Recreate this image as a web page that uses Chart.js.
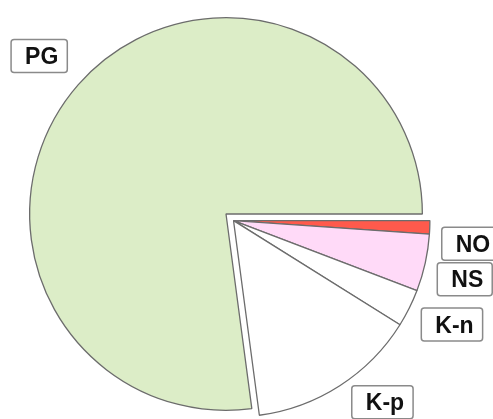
<!DOCTYPE html>
<html>
<head>
<meta charset="utf-8">
<script src="https://cdn.jsdelivr.net/npm/chart.js@4.4.0/dist/chart.umd.min.js"></script>
<style>
  html, body { margin: 0; padding: 0; background: #fff; }
  #wrap { width: 493px; height: 419px; position: relative; }
</style>
</head>
<body>
<div id="wrap"><canvas id="pie"></canvas></div>
<script>
// slices, clockwise starting from 3 o'clock
var labels = ["NO", "NS", "K-n", "K-p", "PG"];
var shares = [1.1, 4.7, 3.1, 14.0, 77.1];
var colors = ["#ff5a4c", "#ffdaf8", "#ffffff", "#ffffff", "#dcedc7"];
var exploded = [true, true, true, true, false];

// pulls the exploded slices out together, along the middle of the group
const explodePlugin = {
    id: 'explodeGroup',
    afterDatasetsUpdate: function(chart) {
        const meta = chart.getDatasetMeta(0);
        const arcs = meta.data.filter((a, i) => exploded[i]);
        if (!arcs.length) return;
        const mid = (arcs[0].startAngle + arcs[arcs.length - 1].endAngle) / 2;
        const dist = 10;
        arcs.forEach(function(a) {
            a.x += Math.cos(mid) * dist;
            a.y += Math.sin(mid) * dist;
        });
    }
};

// boxed labels just outside each slice
const boxLabels = {
    id: 'boxLabels',
    afterDatasetsDraw: function(chart) {
        const ctx = chart.ctx;
        const meta = chart.getDatasetMeta(0);
        ctx.save();
        ctx.font = "bold 23px 'Liberation Sans', Arial, sans-serif";
        meta.data.forEach(function(arc, i) {
            const mid = (arc.startAngle + arc.endAngle) / 2;
            const c = Math.cos(mid), s = Math.sin(mid);
            const px = arc.x + c * arc.outerRadius;
            const py = arc.y + s * arc.outerRadius;
            const w = ctx.measureText(labels[i]).width + 23;
            const h = 33;
            const left = c >= 0 ? px + 12 : px - 11 - w;
            const top = s >= 0 ? py : py - 12 - h;

            ctx.beginPath();
            ctx.roundRect(left, top, w, h, 3);
            ctx.fillStyle = "#ffffff";
            ctx.fill();
            ctx.lineWidth = 1.5;
            ctx.strokeStyle = "#8a8a8a";
            ctx.stroke();

            ctx.fillStyle = "#111111";
            ctx.textBaseline = "alphabetic";
            ctx.fillText(labels[i], left + 14, top + h / 2 + 8);
        });
        ctx.restore();
    }
};

const ctx = document.getElementById('pie').getContext('2d');
const pieChart = new Chart(ctx, {
    type: 'pie',
    data: {
        labels: labels,
        datasets: [{
            data: shares,
            backgroundColor: colors,
            borderColor: "#6c6c6c",
            borderWidth: 1.3
        }]
    },
    options: {
        responsive: true,
        maintainAspectRatio: false,
        animation: false,
        rotation: 90,
        layout: { padding: { left: 29, right: 70, top: 17, bottom: 8 } },
        plugins: {
            legend: { display: false },
            tooltip: { enabled: false }
        }
    },
    plugins: [explodePlugin, boxLabels]
});
</script>
</body>
</html>
